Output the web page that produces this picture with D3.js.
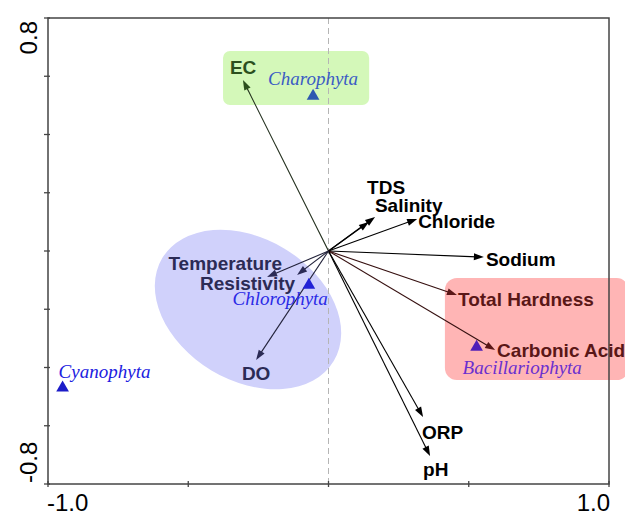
<!DOCTYPE html>
<html>
<head>
<meta charset="utf-8">
<script src="https://cdn.jsdelivr.net/npm/d3@7"></script>
<style>
	body { margin: 0; background: #fff; }
	svg { display: block; }
</style>
</head>
<body>
<div id="chart"></div>
<script>
///////////////////////////////////////////////////////////////////////////////
//// Data /////////////////////////////////////////////////////////////////////
///////////////////////////////////////////////////////////////////////////////
// Environmental variables (arrow tips, axis 1 / axis 2)
const variables = ["EC", "TDS", "Salinity", "Chloride", "Sodium", "Total Hardness",
									 "Carbonic Acid", "ORP", "pH", "Temperature", "Resistivity", "DO"];
const varAxis1 = [-0.305, 0.166, 0.144, 0.316, 0.554, 0.458, 0.594, 0.337, 0.362, -0.219, -0.112, -0.258];
const varAxis2 = [0.587, 0.117, 0.100, 0.110, -0.021, -0.151, -0.340, -0.570, -0.704, -0.089, -0.082, -0.374];

// Species scores
const species = ["Charophyta", "Chlorophyta", "Cyanophyta", "Bacillariophyta"];
const spAxis1 = [-0.055, -0.070, -0.948, 0.528];
const spAxis2 = [0.532, -0.117, -0.470, -0.330];

// Axes
const xTicks = [-1, -0.5, 0, 0.5, 1];
const yTicks = [-0.8, -0.6, -0.4, -0.2, 0, 0.2, 0.4, 0.6, 0.8];
const xEndLabels = ["-1.0", "1.0"];
const yEndLabels = ["-0.8", "0.8"];

///////////////////////////////////////////////////////////////////////////////
//// Layout / styles //////////////////////////////////////////////////////////
///////////////////////////////////////////////////////////////////////////////
const width = 625,
			height = 515;

const x = d3.scaleLinear()
		.domain([-1, 1])
		.range([48, 609]);

const y = d3.scaleLinear()
		.domain([-0.8, 0.8])
		.range([484, 18]);

// Colour per variable group (label / arrow line)
const varColor = {
	"EC": "#2b4f1d",
	"Temperature": "#2b2b55", "Resistivity": "#2b2b55", "DO": "#2b2b55",
	"Total Hardness": "#5a1717", "Carbonic Acid": "#5a1717"
};
const lineColor = {
	"EC": "#1e2b18",
	"Temperature": "#22223a", "Resistivity": "#22223a", "DO": "#22223a",
	"Total Hardness": "#361010", "Carbonic Acid": "#361010"
};
const spColor = {
	"Charophyta": "#3b5cc4", "Chlorophyta": "#2a2ae6",
	"Cyanophyta": "#2020e0", "Bacillariophyta": "#6a2fcf"
};
const spMarker = {
	"Charophyta": "#2e58b0", "Chlorophyta": "#2222d6",
	"Cyanophyta": "#1c1cc8", "Bacillariophyta": "#5020b8"
};

// Label offsets from arrow tip / triangle (px)
const varLabel = {
	"EC": [-13, -6, "start"],
	"TDS": [-8, -23, "start"],
	"Salinity": [6, -10, "start"],
	"Chloride": [1, 9, "start"],
	"Sodium": [2, 9, "start"],
	"Total Hardness": [1, 11, "start"],
	"Carbonic Acid": [2, 7, "start"],
	"ORP": [-1, 22, "start"],
	"pH": [-7, 20, "start"],
	"Temperature": [15, -7, "end"],
	"Resistivity": [-2, 15, "end"],
	"DO": [0, 20, "middle"]
};
const spLabel = {
	"Charophyta": [0, -11, "middle"],
	"Chlorophyta": [19, 20, "end"],
	"Cyanophyta": [-4, -10, "start"],
	"Bacillariophyta": [-14, 27, "start"]
};

///////////////////////////////////////////////////////////////////////////////
//// SVG //////////////////////////////////////////////////////////////////////
///////////////////////////////////////////////////////////////////////////////
const svg = d3.select("#chart")
	.append("svg")
		.attr("width", width)
		.attr("height", height);

///////////////////////////////////////////////////////////////////////////////
// Highlight regions (drawn first, underneath)
svg.append("rect")
		.attr("x", x(-0.376))
		.attr("y", y(0.687))
		.attr("width", x(0.145) - x(-0.376))
		.attr("height", y(0.501) - y(0.687))
		.attr("rx", 7)
		.attr("fill", "#d4f8b9");

svg.append("rect")
		.attr("x", x(0.415))
		.attr("y", y(-0.093))
		.attr("width", x(1.07) - x(0.415))
		.attr("height", y(-0.443) - y(-0.093))
		.attr("rx", 12)
		.attr("fill", "#ffb5b5");

svg.append("ellipse")
		.attr("transform", `translate(${x(-0.287)}, ${y(-0.201)}) rotate(31)`)
		.attr("rx", 100)
		.attr("ry", 71)
		.attr("fill", "#d0d1fb");

///////////////////////////////////////////////////////////////////////////////
// Dashed zero line
svg.append("line")
		.attr("x1", x(0)).attr("x2", x(0))
		.attr("y1", y(0.8)).attr("y2", y(-0.8))
		.attr("stroke", "#b5b5b5")
		.attr("stroke-width", 1)
		.attr("stroke-dasharray", "6,4");

///////////////////////////////////////////////////////////////////////////////
// Frame and ticks
svg.append("rect")
		.attr("x", x(-1))
		.attr("y", y(0.8))
		.attr("width", x(1) - x(-1))
		.attr("height", y(-0.8) - y(0.8))
		.attr("fill", "none")
		.attr("stroke", "#444")
		.attr("stroke-width", 1.5);

svg.append("g")
	.selectAll("line")
	.data(xTicks)
	.enter()
	.append("line")
		.attr("x1", d => x(d)).attr("x2", d => x(d))
		.attr("y1", y(-0.8) - 3).attr("y2", y(-0.8) + 3)
		.attr("stroke", "#444")
		.attr("stroke-width", 1.3);

svg.append("g")
	.selectAll("line")
	.data(yTicks)
	.enter()
	.append("line")
		.attr("y1", d => y(d)).attr("y2", d => y(d))
		.attr("x1", x(-1) - 4).attr("x2", x(-1) + 2)
		.attr("stroke", "#444")
		.attr("stroke-width", 1.3);

// End labels
const axisFont = "'Liberation Sans', Arial, sans-serif";
svg.append("text")
		.attr("x", x(-1) - 1)
		.attr("y", 511)
		.attr("text-anchor", "start")
		.attr("font-family", axisFont)
		.attr("font-size", 24)
		.text(xEndLabels[0]);
svg.append("text")
		.attr("x", x(1) + 1)
		.attr("y", 511)
		.attr("text-anchor", "end")
		.attr("font-family", axisFont)
		.attr("font-size", 24)
		.text(xEndLabels[1]);
svg.append("text")
		.attr("transform", `translate(37, ${y(-0.8) - 1}) rotate(-90)`)
		.attr("text-anchor", "start")
		.attr("font-family", axisFont)
		.attr("font-size", 24)
		.text(yEndLabels[0]);
svg.append("text")
		.attr("transform", `translate(37, ${y(0.8) + 3}) rotate(-90)`)
		.attr("text-anchor", "end")
		.attr("font-family", axisFont)
		.attr("font-size", 24)
		.text(yEndLabels[1]);

///////////////////////////////////////////////////////////////////////////////
//// Arrows ///////////////////////////////////////////////////////////////////
///////////////////////////////////////////////////////////////////////////////
const arrows = variables.map((name, i) => ({
		name: name,
		tx: x(varAxis1[i]),
		ty: y(varAxis2[i]),
		color: varColor[name] || "#000",
		line: lineColor[name] || "#000"
	}));

const ox = x(0),
			oy = y(0),
			headLen = 10,
			headHalf = 3.5;

const arrowG = svg.append("g")
	.selectAll("g")
	.data(arrows)
	.enter()
	.append("g");

arrowG.append("line")
		.attr("x1", ox)
		.attr("y1", oy)
		.attr("x2", d => d.tx - headLen * 0.7 * unit(d)[0])
		.attr("y2", d => d.ty - headLen * 0.7 * unit(d)[1])
		.attr("stroke", d => d.line)
		.attr("stroke-width", 1.1);

arrowG.append("path")
		.attr("d", d => {
			const [ux, uy] = unit(d),
						bx = d.tx - headLen * ux,
						by = d.ty - headLen * uy;
			return `M${d.tx},${d.ty}L${bx - headHalf * uy},${by + headHalf * ux}` +
				`L${bx + headHalf * uy},${by - headHalf * ux}Z`;
		})
		.attr("fill", d => d.color);

arrowG.append("text")
		.attr("x", d => d.tx + varLabel[d.name][0])
		.attr("y", d => d.ty + varLabel[d.name][1])
		.attr("text-anchor", d => varLabel[d.name][2])
		.attr("font-family", axisFont)
		.attr("font-weight", "bold")
		.attr("font-size", 19)
		.attr("fill", d => d.color)
		.text(d => d.name);

///////////////////////////////////////////////////////////////////////////////
//// Species //////////////////////////////////////////////////////////////////
///////////////////////////////////////////////////////////////////////////////
const spG = svg.append("g")
	.selectAll("g")
	.data(species)
	.enter()
	.append("g")
		.attr("transform", (d, i) => `translate(${x(spAxis1[i])}, ${y(spAxis2[i])})`);

spG.append("path")
		.attr("d", d3.symbol(d3.symbolTriangle, 70))
		.attr("fill", d => spMarker[d]);

spG.append("text")
		.attr("x", d => spLabel[d][0])
		.attr("y", d => spLabel[d][1])
		.attr("text-anchor", d => spLabel[d][2])
		.attr("font-family", "'Liberation Serif', 'Times New Roman', serif")
		.attr("font-style", "italic")
		.attr("font-size", 19)
		.attr("fill", d => spColor[d])
		.text(d => d);

///////////////////////////////////////////////////////////////////////////////
//// Helper Functions /////////////////////////////////////////////////////////
///////////////////////////////////////////////////////////////////////////////
function unit(d) {
	const dx = d.tx - ox,
				dy = d.ty - oy,
				len = Math.sqrt(dx * dx + dy * dy);
	return [dx / len, dy / len];
}
</script>
</body>
</html>
